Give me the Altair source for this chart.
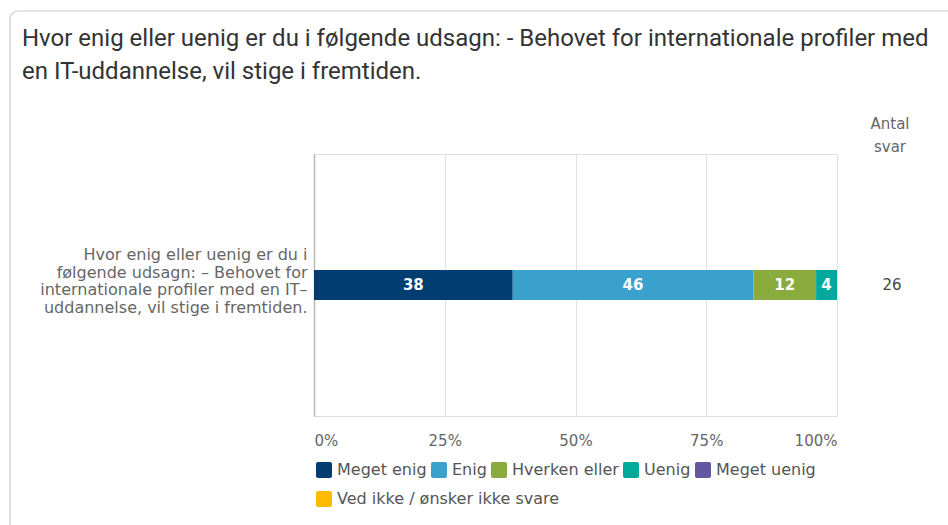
import altair as alt
import pandas as pd

# ---- data ----
categories = ["Meget enig", "Enig", "Hverken eller", "Uenig", "Meget uenig",
              "Ved ikke / ønsker ikke svare"]
values = [38, 46, 12, 4, 0, 0]
colors = ["#023d71", "#39a1cc", "#8aab3d", "#00a99c", "#6457a1", "#fdbb00"]
question = "Hvor enig eller uenig er du i|følgende udsagn: – Behovet for|internationale profiler med en IT–|uddannelse, vil stige i fremtiden."
n_answers = 26
x_ticks = [0, 25, 50, 75, 100]
title_lines = ["Hvor enig eller uenig er du i følgende udsagn: - Behovet for internationale profiler med",
               "en IT-uddannelse, vil stige i fremtiden."]

df = pd.DataFrame({
    "cat": categories,
    "value": values,
    "order": list(range(len(categories))),
    "question": [question] * len(categories),
})
count_df = pd.DataFrame({"question": [question], "n": [n_answers]})

W, H = 523, 262
FONT = "DejaVu Sans"
FS = 15

rounded = ("M-0.75,-1H0.75A0.25,0.25 0 0 1 1,-0.75V0.75A0.25,0.25 0 0 1 0.75,1"
           "H-0.75A0.25,0.25 0 0 1 -1,0.75V-0.75A0.25,0.25 0 0 1 -0.75,-1Z")

legend_common = dict(orient="none", direction="horizontal", legendX=2,
                     symbolType=rounded, symbolSize=256, symbolStrokeWidth=0,
                     symbolOpacity=1, labelFont=FONT, labelFontSize=16,
                     labelColor="#555555", labelOffset=5, columnPadding=4,
                     labelLimit=400)

base = alt.Chart(df).transform_stack(
    stack="value", groupby=["question"], as_=["x0", "x1"],
    sort=[alt.SortField("order", order="ascending")]
).transform_calculate(mid="(datum.x0 + datum.x1) / 2")

y_enc = alt.Y("question:N", title=None,
              axis=alt.Axis(labelExpr="split(datum.label, '|')", labelFont=FONT,
                            labelFontSize=16, labelColor="#666666", labelLineHeight=17.5,
                            labelPadding=7, ticks=False, domain=True,
                            domainColor="#b8b8b8", domainWidth=1.5,
                            labelLimit=400, labelBaseline="middle", labelAlign="right",
                            labelOffset=-30))

x_enc = alt.X("x0:Q", scale=alt.Scale(domain=[0, 100], nice=False), title=None,
              axis=alt.Axis(values=x_ticks, labelExpr="datum.value + '%'", labelFont=FONT,
                            labelFontSize=FS, labelColor="#666666", labelPadding=17,
                            labelFlush=True, ticks=False, domain=False, grid=True,
                            gridColor="#e2e2e2", gridWidth=1))

bars = base.mark_bar(size=30).encode(
    x=x_enc,
    x2="x1:Q",
    y=y_enc,
    color=alt.Color("cat:N", scale=alt.Scale(domain=categories, range=colors),
                    title=None,
                    legend=alt.Legend(values=categories[:5], legendY=308, **legend_common)),
)

# second legend row (last category) via an independent colour scale
bars_last = base.transform_filter(alt.datum.cat == categories[-1]).mark_bar(size=30).encode(
    x=alt.X("x0:Q"),
    x2="x1:Q",
    y=alt.Y("question:N"),
    color=alt.Color("cat:N", scale=alt.Scale(domain=categories[-1:], range=colors[-1:]),
                    title=None,
                    legend=alt.Legend(legendY=337, **legend_common)),
)

labels = base.transform_filter("datum.value > 0").mark_text(
    color="white", font=FONT, fontSize=FS, fontWeight="bold", baseline="middle"
).encode(
    x=alt.X("mid:Q"),
    y=alt.Y("question:N"),
    text=alt.Text("value:Q"),
)

counts = alt.Chart(count_df).mark_text(
    font=FONT, fontSize=FS, color="#444444", baseline="middle", align="center"
).encode(
    x=alt.value(W + 55),
    y=alt.Y("question:N"),
    text="n:Q",
)

header = alt.Chart(count_df).mark_text(
    font=FONT, fontSize=FS, color="#666666", baseline="middle", align="center",
    lineHeight=23
).encode(
    x=alt.value(W + 53),
    y=alt.value(-30),
    text=alt.value(["Antal", "svar"]),
)

border = alt.Chart(count_df).mark_rect(
    fill="transparent", stroke="#cccccc", strokeWidth=1.2, cornerRadius=8
).encode(
    x=alt.value(-304), x2=alt.value(W + 300),
    y=alt.value(-143), y2=alt.value(H + 300),
)

chart = alt.layer(border, bars, bars_last, labels, counts, header).resolve_scale(
    color="independent"
).properties(
    width=W, height=H,
    autosize=alt.AutoSizeParams(type="none"),
    padding={"left": 314, "top": 154, "right": 111, "bottom": 109},
    title=alt.Title(title_lines, anchor="start", frame="group", dx=-292,
                    font="Roboto", fontSize=24, fontWeight="normal",
                    color="#333333", lineHeight=33, offset=0,
                    baseline="alphabetic", dy=93),
).configure_view(stroke=None).configure(background="white")

chart.save("out.html", embed_options={"renderer": "svg", "actions": False})
